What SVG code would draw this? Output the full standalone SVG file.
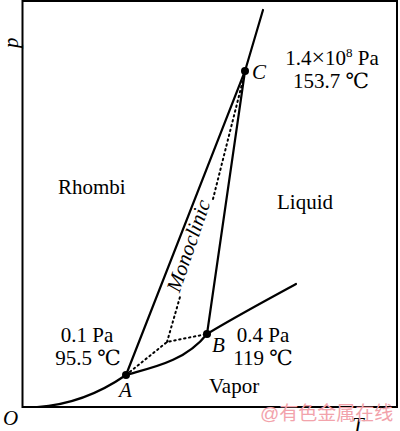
<svg xmlns="http://www.w3.org/2000/svg" width="400" height="431" viewBox="0 0 400 431">
<style>
.t{font-family:"Liberation Serif","DejaVu Serif",serif;font-size:21px;fill:#000}
.i{font-style:italic}
.ln{fill:none;stroke:#000;stroke-width:2.2;stroke-linecap:round}
.dt{fill:none;stroke:#000;stroke-width:2;stroke-dasharray:1.5 3.5;stroke-linecap:round}
.wm{font-family:"Liberation Sans","Noto Sans CJK SC",sans-serif;font-size:19px;fill:#f2a3ab}
</style>
<rect width="400" height="431" fill="#fff"/>
<g id="frame"><rect x="22.5" y="1" width="374.5" height="406" fill="none" stroke="#000" stroke-width="2"/></g>
<g id="connectors">
<path class="ln" d="M37,407 C70,405 100,393 126,375 C150,368 185,362 207,334 C235,317 265,301 296,284"/>
<path class="ln" d="M126,375 L245,71 L263,10"/>
<path class="ln" d="M207,334 L245,71"/>
<path class="dt" d="M126,375 L167,342 L207,334 M167,342 L180,297"/>
<path class="dt" d="M213,199 L244,76"/>
</g>
<g id="A"><circle cx="126" cy="375" r="4"/><text class="t i" x="119" y="397">A</text></g>
<g id="B"><circle cx="207" cy="334" r="4"/><text class="t i" x="212" y="352">B</text></g>
<g id="C"><circle cx="245" cy="71" r="4"/><text class="t i" x="252" y="79">C</text></g>
<g id="labels">
<text class="t" x="332" y="65" text-anchor="middle">1.4<tspan font-size="24">×</tspan>10<tspan font-size="13" dy="-8">8</tspan><tspan dy="8"> Pa</tspan></text>
<text class="t" x="331" y="88" text-anchor="middle">153.7 ℃</text>
<text class="t" x="87" y="342" text-anchor="middle">0.1 Pa</text>
<text class="t" x="88" y="365" text-anchor="middle">95.5 ℃</text>
<text class="t" x="263" y="342" text-anchor="middle">0.4 Pa</text>
<text class="t" x="263" y="365" text-anchor="middle">119 ℃</text>
<text class="t" x="58" y="194">Rhombi</text>
<text class="t" x="277" y="209">Liquid</text>
<text class="t" x="209" y="393">Vapor</text>
<text class="t i" transform="translate(195,248) rotate(-71)" text-anchor="middle" font-size="19">Monoclinic</text>
<text class="t i" x="3" y="425">O</text>
<text class="t i" x="352" y="432">T</text>
<text class="t i" transform="translate(18,48) rotate(-90)">p</text>
<text class="wm" x="260" y="420">@有色金属在线</text>
</g>
</svg>
